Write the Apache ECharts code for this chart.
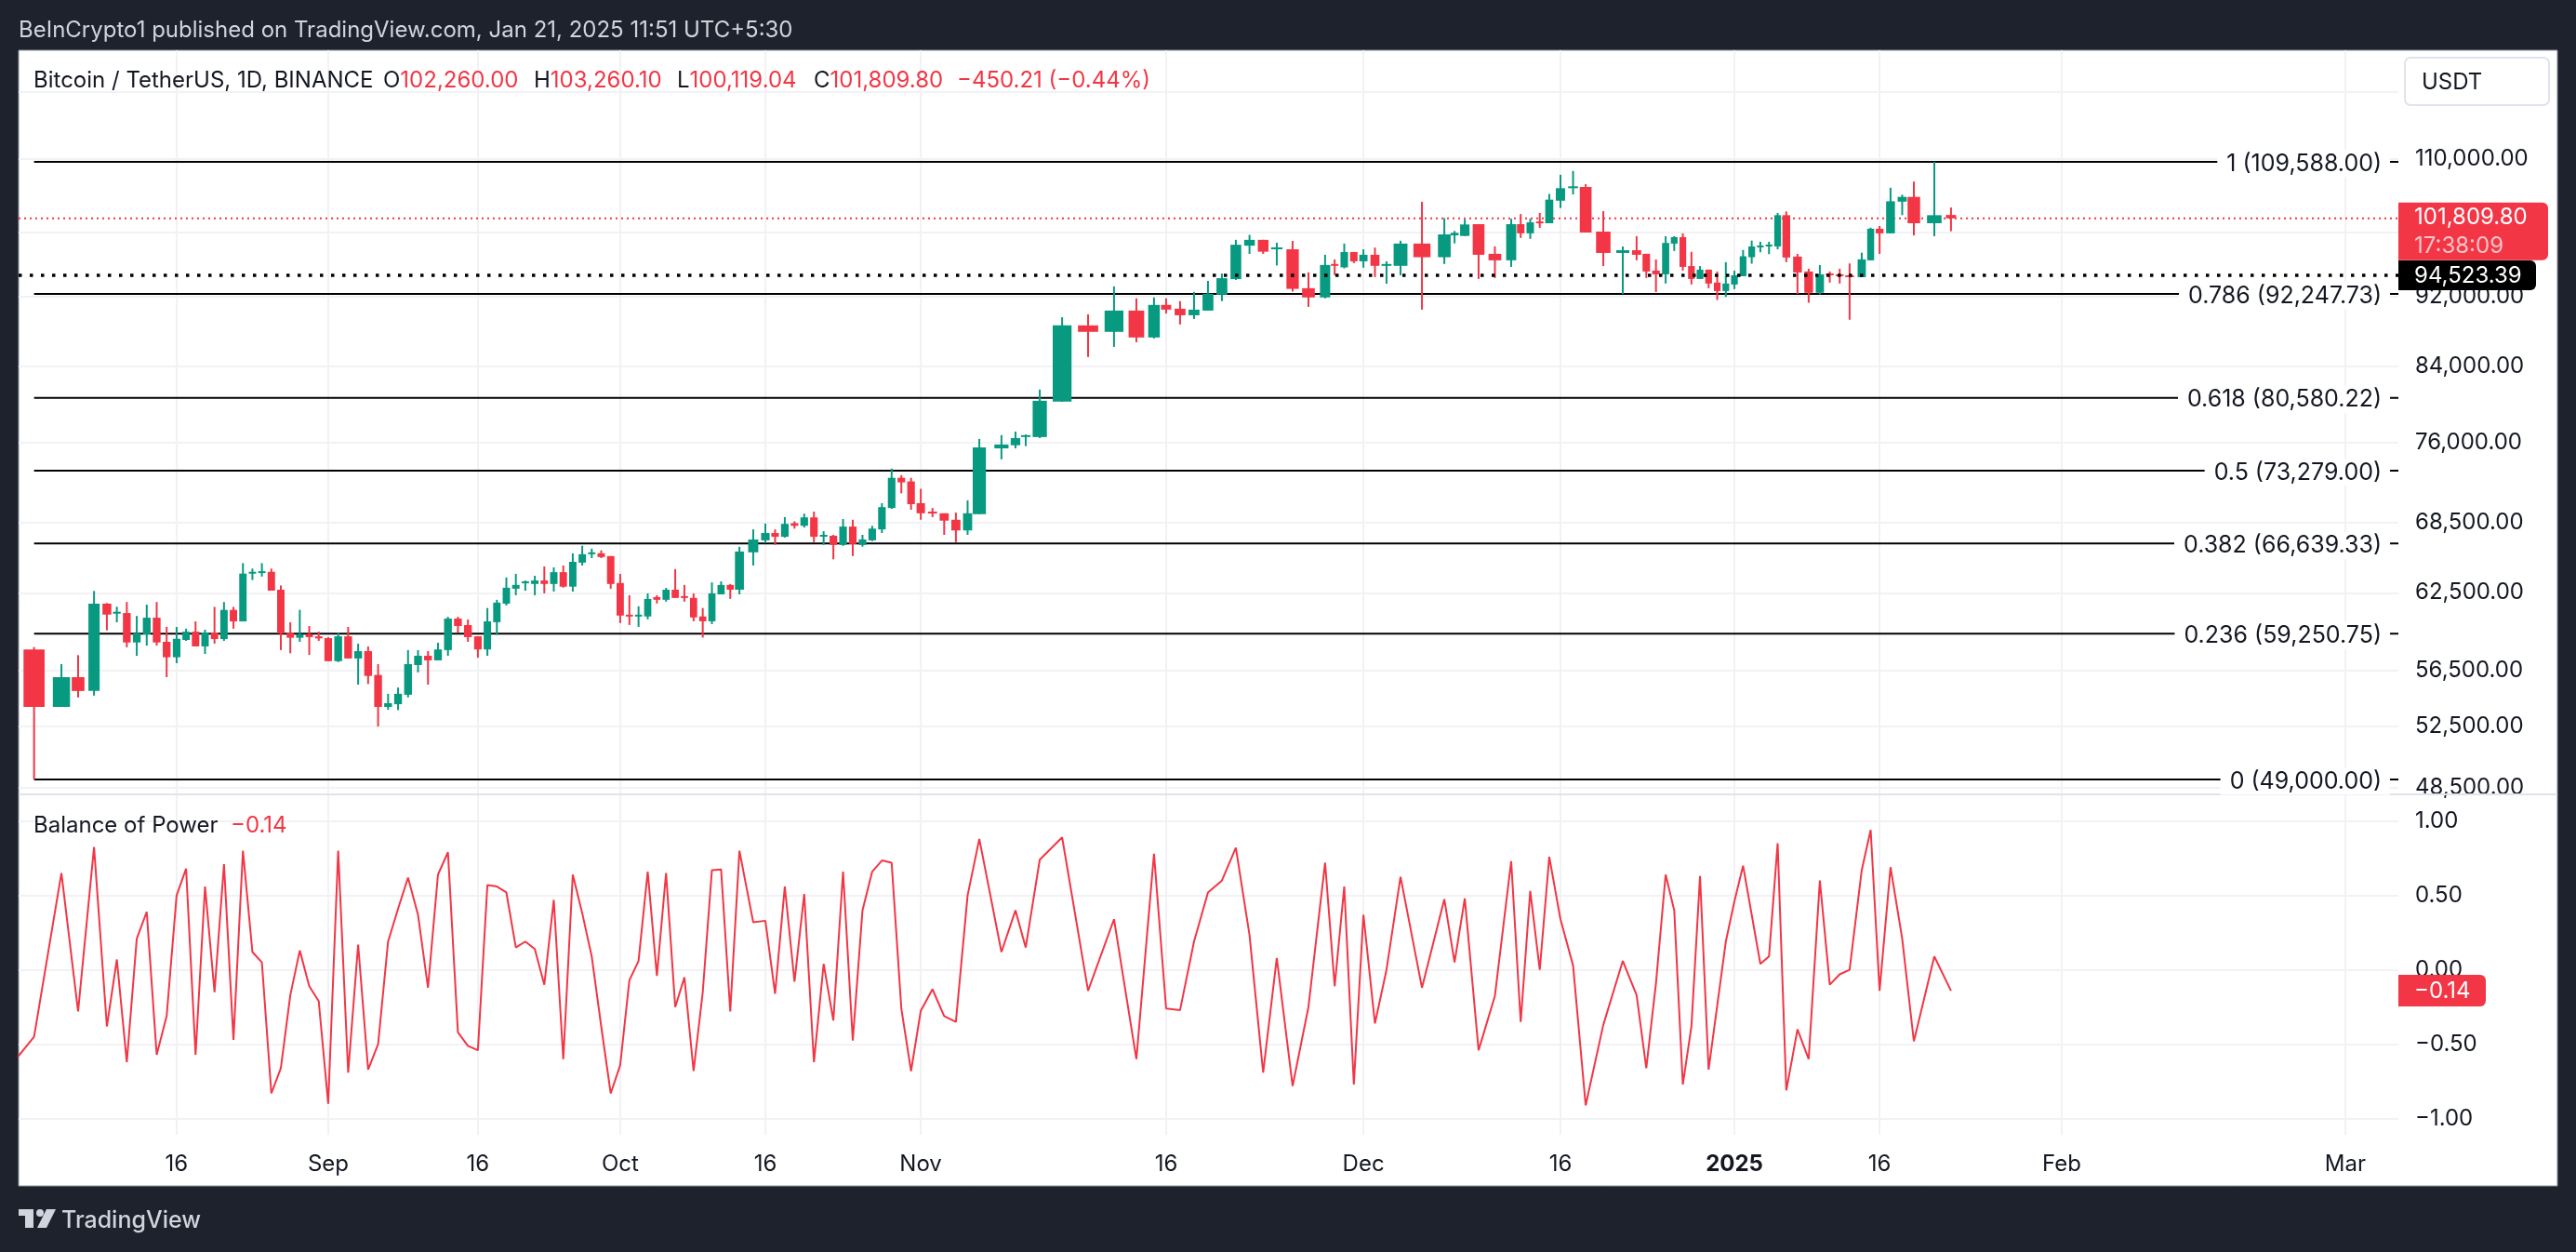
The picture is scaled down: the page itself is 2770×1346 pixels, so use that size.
<!DOCTYPE html>
<html>
<head>
<meta charset="utf-8">
<title>BTCUSDT 1D</title>
<script src="https://cdn.jsdelivr.net/npm/echarts@6/dist/echarts.min.js"></script>
<style>
html, body { margin: 0; padding: 0; background: #1e222d; }
#chart { width: 2770px; height: 1346px; }
</style>
</head>
<body>
<div id="chart"></div>
<script>
// daily bars, Aug 5 2024 to Jan 21 2025
var opens = [58050,53860,55990,54990,61620,60820,60870,58580,59200,60500,58630,57460,58770,59410,58280,59340,58840,61120,60210,64130,64180,64230,62750,59320,58940,59220,59050,58910,57170,59050,57370,57920,56150,53860,54050,54720,56880,57570,57230,58000,60430,59920,59050,58050,60150,61620,62830,63280,63220,63510,63220,64200,63000,65000,65720,65800,65560,63300,60740,60600,60600,62150,61930,62750,62230,62080,60600,60220,62370,63140,62750,65880,66920,67560,67230,68430,68200,68950,67320,67320,66520,68130,66520,66920,67880,69800,72600,72260,70240,69470,69320,68740,67790,69240,75440,75750,76650,76557,80170,88556,87810,90280,87170,90950,90500,89730,90280,92170,94060,98250,99000,97790,97790,92950,91840,95930,95510,97440,96270,97090,95810,95700,98520,96780,99580,99500,101040,97210,96390,101040,99840,101400,101160,104180,105940,106060,100070,97320,97670,97210,95110,94650,98510,99350,95670,94080,95230,93630,92610,93400,94420,96780,98050,98270,98150,102230,96860,95000,92400,94760,94650,94530,94300,96390,100440,99840,104050,104700,101160,102260];
var highs = [58230,56950,57620,62646,61670,61370,61750,60640,61540,61750,59780,59780,59640,60210,59560,61360,61750,61360,64960,64500,64960,64500,63100,60140,61120,59850,59410,58990,59320,59780,58490,58280,56950,54790,55240,58000,58000,57920,58560,60570,60570,60360,59050,61270,61930,63755,64060,63510,63900,64680,64600,64760,65800,66450,66200,66050,65560,64060,62300,61410,62450,62300,62900,64460,63140,62450,61270,63350,63430,63220,66360,67880,68400,67880,68980,68600,69290,69470,67720,67400,68800,68740,67400,68200,70240,73480,72860,72600,71570,69800,69320,69380,70500,76370,76750,77110,76820,81450,89500,89840,93170,91730,91840,91730,91400,92500,93840,94740,99000,99640,99000,98630,98860,94890,97090,96510,98520,97440,97780,98010,96270,98880,104040,101840,100150,101700,101040,98160,101760,102390,101760,102520,105100,107760,108300,106450,102770,98150,99470,97210,96490,99470,99470,99840,97460,95670,95230,95000,96160,95110,97700,98900,98750,98750,102520,102730,97210,95340,95800,95000,95340,96000,97360,100580,100800,105960,105000,106810,109588,103260.10];
var lows = [49000,53860,54530,54660,59515,60140,58210,57570,58340,58340,55990,57020,58700,58280,57710,58490,58700,59640,60210,63550,63830,62670,58000,57760,58630,57640,58700,57170,57100,57370,55450,55490,52500,53660,53640,54530,56340,55450,57230,57570,59340,58630,57430,57570,59160,61470,62300,62670,62300,62450,62600,62920,62600,64760,65390,65390,62830,60080,59930,59780,60370,61630,61780,62080,61780,60220,58950,60000,62370,62000,62370,64760,66680,66520,67160,67950,68040,66760,66520,65280,66440,65560,66370,66850,67560,69720,71150,69640,68740,68980,67400,66760,67400,69240,74370,75440,75660,76460,80170,84980,86110,86630,87060,89940,88660,89300,90280,91400,93950,97200,97200,95750,92540,90720,91730,94540,95390,96040,95470,94310,93500,94540,90390,95930,98540,99500,94080,94190,95570,99240,99120,100560,101160,103190,105040,99950,95670,92250,96390,94200,92490,93520,97570,95110,93400,94080,92950,91530,91900,92840,94420,95970,97410,97170,97790,96160,92250,91200,92210,93640,93520,89210,94300,96390,97210,99840,102230,99570,99470,100119.04];
var closes = [53860,55990,54990,61620,60746,60970,58580,59270,60500,58580,57460,58860,59410,58280,59340,58840,61120,60210,64080,64230,64280,62670,59270,58940,59220,58990,58890,57170,59050,57370,57920,56080,53860,54120,54790,56950,57570,57230,58050,60430,59850,58990,58050,60210,61700,62910,63140,63430,63510,63220,64200,63000,65070,65720,65880,65480,63220,60670,60600,60740,62000,61930,62750,62080,62080,60520,60220,62450,63140,62750,65950,66990,67560,67230,68370,68200,68950,67230,67400,66520,68130,66600,67000,67950,69880,72600,72170,70150,69320,69320,68660,67790,69320,75530,75820,76460,76750,80270,88556,87810,90280,87170,90950,90390,89730,90390,92280,94170,98370,99000,97480,98030,92870,91840,95810,95740,97440,96270,97090,95700,95930,98520,96780,99700,99900,101000,97090,96390,101040,99840,101280,101160,104320,105890,106150,99950,97320,97670,97090,95000,94650,98600,99350,95570,94080,95230,93520,92610,93520,94530,96900,98150,98270,98390,102230,96740,94880,92400,94650,94650,94420,94370,96510,100440,99840,104100,104700,101160,102230,101809.80];
// one value before the first bar, the line enters the pane from off screen
var bopBefore = -0.67;
var bopValues = [-0.45,0.65,-0.28,0.825,-0.38,0.07,-0.62,0.21,0.39,-0.57,-0.31,0.50,0.68,-0.57,0.56,-0.15,0.71,-0.47,0.80,0.12,0.05,-0.83,-0.66,-0.17,0.13,-0.11,-0.21,-0.90,0.80,-0.69,0.17,-0.67,-0.50,0.19,0.41,0.62,0.37,-0.12,0.64,0.79,-0.42,-0.51,-0.54,0.57,0.56,0.52,0.15,0.19,0.14,-0.10,0.47,-0.60,0.64,0.38,0.09,-0.38,-0.83,-0.64,-0.07,0.06,0.66,-0.04,0.65,-0.25,-0.05,-0.68,-0.15,0.67,0.675,-0.28,0.80,0.32,0.33,-0.16,0.56,-0.08,0.51,-0.62,0.04,-0.34,0.66,-0.475,0.40,0.66,0.735,0.72,-0.26,-0.68,-0.275,-0.13,-0.31,-0.35,0.50,0.88,0.12,0.40,0.15,0.74,0.89,-0.14,0.34,-0.60,0.78,-0.26,-0.27,0.19,0.52,0.60,0.82,0.235,-0.69,0.08,-0.78,-0.25,0.72,-0.11,0.56,-0.77,0.37,-0.36,0.00,0.625,-0.12,0.475,0.05,0.48,-0.54,-0.175,0.73,-0.35,0.53,0.00,0.76,0.34,0.03,-0.91,-0.37,0.06,-0.17,-0.66,-0.09,0.64,0.40,-0.77,-0.38,0.63,-0.67,-0.24,0.19,0.46,0.70,0.37,0.04,0.09,0.85,-0.81,-0.40,-0.60,0.60,-0.10,-0.03,0.00,0.67,0.94,-0.14,0.69,0.21,-0.48,0.09,-0.14];

var fibLevels = ['1','0.786','0.618','0.5','0.382','0.236','0'];
var fibPrices = [109588,92247.73,80580.22,73279,66639.33,59250.75,49000];
var lastPrice = 101809.80;
var markedPrice = 94523.39;
var lastBop = -0.14;

var priceTicks = [120000,110000,100000,92000,84000,76000,68500,62500,56500,52500,48500];
var bopTicks = [-1,-0.5,0,0.5,1];
var timeLabels = ['16','Sep','16','Oct','16','Nov','16','Dec','16','2025','16','Feb','Mar'];
var timeLabelBars = [11,27,42,57,72,88,103,118,133,149,164,181,209];

// the time scale of the picture is not even, so bars go through this bar -> axis table
var scaleBars = [-1,0,1,2,3,4,11,27,42,57,70,71,72,88,93,94,95,96,97,98,99,100,101,102,103,108,111,113,114,118,120,121,122,123,125,126,128,132,133,135,136,137,138,141,149,155,158,161,162,164,165,167,168,169,181,209];
var scaleAxis = [-0.47,0.65,1.80,2.50,3.17,3.71,6.64,13.01,19.30,25.28,30.29,30.87,31.38,37.91,40.37,41.30,41.89,42.32,42.91,43.85,44.94,46.03,46.97,47.71,48.22,51.15,52.87,54.20,54.90,56.51,57.48,58.07,58.97,59.91,60.77,61.35,62.72,64.32,64.79,65.85,66.59,67.41,67.99,69.21,72.10,74.28,75.69,76.94,77.45,78.20,78.66,79.64,80.50,81.20,85.85,97.77];

var UP = '#089981';
var DOWN = '#f23645';
var INK = '#131722';
var GRID = '#f2f2f5';
var FONT = 'Inter, sans-serif';
var SIZE = 24;

function barToAxis(bar) {
    var k = 0;
    while (k < scaleBars.length - 2 && bar > scaleBars[k + 1]) k++;
    var t = (bar - scaleBars[k]) / (scaleBars[k + 1] - scaleBars[k]);
    return scaleAxis[k] + t * (scaleAxis[k + 1] - scaleAxis[k]);
}

function money(v) {
    return v.toLocaleString('en-US', { minimumFractionDigits: 2, maximumFractionDigits: 2 });
}

var candleData = opens.map(function (o, i) {
    var half = (barToAxis(i + 0.5) - barToAxis(i - 0.5)) / 2 * 0.78;
    return [barToAxis(i), o, closes[i], lows[i], highs[i], half];
});

var bopData = [[barToAxis(-1), bopBefore]].concat(bopValues.map(function (v, i) {
    return [barToAxis(i), v];
}));

var timeTicks = timeLabelBars.map(barToAxis);

function renderCandle(params, api) {
    var x = api.value(0), o = api.value(1), c = api.value(2);
    var half = api.value(5);
    var top = api.coord([x, Math.max(o, c)])[1];
    var bot = api.coord([x, Math.min(o, c)])[1];
    var center = api.coord([x, o])[0];
    var hi = api.coord([x, api.value(4)])[1];
    var lo = api.coord([x, api.value(3)])[1];
    var left = api.coord([x - half, o])[0];
    var right = api.coord([x + half, o])[0];
    var color = c >= o ? UP : DOWN;
    return {
        type: 'group',
        children: [
            { type: 'rect', shape: { x: center - 1, y: hi, width: 2, height: lo - hi }, style: { fill: color } },
            { type: 'rect', shape: { x: left, y: top, width: right - left, height: Math.max(bot - top, 2) }, style: { fill: color } }
        ]
    };
}

function renderFib(params, api) {
    var p = api.value(0);
    var a = api.coord([barToAxis(0), p]);
    var b = api.coord([100, p]);
    var t = api.coord([99.65, p]);
    return {
        type: 'group',
        children: [
            { type: 'rect', shape: { x: a[0], y: a[1] - 1, width: b[0] - a[0], height: 2 }, style: { fill: '#000' } },
            {
                type: 'text',
                x: t[0],
                y: t[1] + 2,
                style: {
                    text: fibLevels[params.dataIndex] + ' (' + money(p) + ')',
                    align: 'right',
                    verticalAlign: 'middle',
                    fill: INK,
                    font: '25px ' + FONT,
                    backgroundColor: '#fff',
                    padding: [2, 9, 2, 10]
                }
            }
        ]
    };
}

// price tag boxes hang off the right edge of the pane
function tagSeries(gridIndex, value, lines, fill, width, height, offset, z) {
    return {
        type: 'custom',
        xAxisIndex: gridIndex,
        yAxisIndex: gridIndex,
        silent: true,
        z: z,
        data: [[100, value]],
        encode: { x: 0, y: 1 },
        renderItem: function (params, api) {
            var pos = api.coord([100, api.value(1)]);
            var top = pos[1] + offset;
            var children = [{
                type: 'rect',
                shape: { x: pos[0], y: top, width: width, height: height, r: [0, 6, 6, 0] },
                style: { fill: fill }
            }];
            lines.forEach(function (line, i) {
                children.push({
                    type: 'text',
                    x: pos[0] + 17,
                    y: top + (height / lines.length) * (i + 0.5) + 1,
                    style: {
                        text: line[0],
                        fill: line[1],
                        font: SIZE + 'px ' + FONT,
                        verticalAlign: 'middle'
                    }
                });
            });
            return { type: 'group', children: children };
        }
    };
}

function hline(value, color, width, dash, z) {
    return {
        type: 'line',
        silent: true,
        z: z,
        showSymbol: false,
        data: [[0, value], [100, value]],
        lineStyle: { color: color, width: width, type: dash }
    };
}

function timeAxis(gridIndex, showLabels) {
    return {
        type: 'value',
        gridIndex: gridIndex,
        min: 0,
        max: 100,
        axisLine: { show: false },
        axisTick: { show: false, customValues: timeTicks },
        splitLine: { show: true, lineStyle: { color: GRID, width: 2 } },
        axisLabel: {
            show: showLabels,
            customValues: timeTicks,
            margin: 20,
            color: INK,
            fontFamily: FONT,
            fontSize: SIZE,
            hideOverlap: false,
            formatter: function (v) {
                var i = timeTicks.indexOf(v);
                var t = timeLabels[i];
                return t === '2025' ? '{b|2025}' : t;
            },
            rich: { b: { fontFamily: FONT, fontSize: SIZE, fontWeight: 'bold', color: INK } }
        }
    };
}

function valueAxisLabel(ticks, formatter) {
    return {
        customValues: ticks,
        margin: 18,
        padding: [4, 0, 0, 0],
        color: INK,
        fontFamily: FONT,
        fontSize: SIZE,
        hideOverlap: false,
        formatter: formatter
    };
}

function headerText(x, parts) {
    var rich = {
        k: { fill: INK, fontFamily: FONT, fontSize: SIZE },
        r: { fill: DOWN, fontFamily: FONT, fontSize: SIZE }
    };
    return { type: 'text', z: 20, x: x, y: parts.y, style: { text: parts.text, verticalAlign: 'middle', rich: rich } };
}

var chart = echarts.init(document.getElementById('chart'));
chart.setOption({
    animation: false,
    backgroundColor: '#1e222d',
    grid: [
        { left: 20, right: 191, top: 54, height: 800 },
        { left: 20, right: 191, top: 854, height: 366 }
    ],
    xAxis: [timeAxis(0, false), timeAxis(1, true)],
    yAxis: [
        {
            type: 'log',
            gridIndex: 0,
            position: 'right',
            min: 48059,
            max: 126750,
            axisLine: { show: false },
            axisTick: { show: false, customValues: priceTicks },
            splitLine: { show: true, lineStyle: { color: GRID, width: 2 } },
            axisLabel: valueAxisLabel(priceTicks, function (v) { return money(v); })
        },
        {
            type: 'value',
            gridIndex: 1,
            position: 'right',
            min: -1.108,
            max: 1.179,
            axisLine: { show: false },
            axisTick: { show: false, customValues: bopTicks },
            splitLine: { show: true, lineStyle: { color: GRID, width: 2 } },
            axisLabel: valueAxisLabel(bopTicks, function (v) {
                return v.toFixed(2).replace('-', '\u2212');
            })
        }
    ],
    series: [
        hline(lastPrice, DOWN, 2, [2, 4], 2),
        {
            type: 'custom',
            xAxisIndex: 0,
            yAxisIndex: 0,
            silent: true,
            z: 3,
            data: fibPrices.map(function (p) { return [p]; }),
            encode: { y: 0 },
            renderItem: renderFib
        },
        {
            type: 'custom',
            xAxisIndex: 0,
            yAxisIndex: 0,
            silent: true,
            z: 4,
            data: candleData,
            encode: { x: 0, y: [1, 2, 3, 4] },
            renderItem: renderCandle
        },
        hline(markedPrice, '#000', 3.5, [3.5, 8.5], 5),
        {
            type: 'line',
            xAxisIndex: 1,
            yAxisIndex: 1,
            silent: true,
            z: 3,
            showSymbol: false,
            data: bopData,
            lineStyle: { color: DOWN, width: 2 }
        },
        tagSeries(0, markedPrice, [[money(markedPrice), '#fff']], '#000', 148, 32, -16, 11),
        tagSeries(0, lastPrice, [[money(lastPrice), '#fff'], ['17:38:09', 'rgba(255,255,255,0.7)']], DOWN, 161, 62, -17, 10),
        tagSeries(1, lastBop, [[String(lastBop).replace('-', '\u2212'), '#fff']], DOWN, 94, 34, -17, 10)
    ],
    graphic: [
        { type: 'rect', z: -10, shape: { x: 20, y: 54, width: 2730, height: 1221 }, style: { fill: '#fff', stroke: '#8a8f9c', lineWidth: 1 } },
        { type: 'rect', z: 1, shape: { x: 20, y: 853, width: 2730, height: 2 }, style: { fill: '#e0e3eb' } },
        { type: 'text', z: 20, x: 20, y: 33, style: { text: 'BeInCrypto1 published on TradingView.com, Jan 21, 2025 11:51 UTC+5:30', fill: '#d1d4dc', font: SIZE + 'px ' + FONT, verticalAlign: 'middle' } },
        headerText(36, { y: 87, text: '{k|Bitcoin / TetherUS, 1D, BINANCE}' }),
        headerText(412, { y: 87, text: '{k|O}{r|102,260.00}' }),
        headerText(574, { y: 87, text: '{k|H}{r|103,260.10}' }),
        headerText(728, { y: 87, text: '{k|L}{r|100,119.04}' }),
        headerText(875, { y: 87, text: '{k|C}{r|101,809.80}' }),
        headerText(1029, { y: 87, text: '{r|\u2212450.21 (\u22120.44%)}' }),
        headerText(36, { y: 888, text: '{k|Balance of Power}{r|  \u22120.14}' }),
        { type: 'rect', z: 20, shape: { x: 2586, y: 62, width: 155, height: 51, r: 6 }, style: { fill: '#fff', stroke: '#e0e3eb', lineWidth: 2 } },
        { type: 'text', z: 21, x: 2604, y: 89, style: { text: 'USDT', fill: INK, font: SIZE + 'px ' + FONT, verticalAlign: 'middle' } },
        // logo
        { type: 'rect', z: 20, shape: { x: 20, y: 1300, width: 16, height: 7 }, style: { fill: '#d1d4dc' } },
        { type: 'rect', z: 20, shape: { x: 27, y: 1300, width: 9, height: 20 }, style: { fill: '#d1d4dc' } },
        { type: 'circle', z: 20, shape: { cx: 43, cy: 1304, r: 4 }, style: { fill: '#d1d4dc' } },
        { type: 'polygon', z: 20, shape: { points: [[50, 1300], [60, 1300], [50, 1320], [40, 1320]] }, style: { fill: '#d1d4dc' } },
        { type: 'text', z: 20, x: 66, y: 1312, style: { text: 'TradingView', fill: '#d1d4dc', font: '500 25px ' + FONT, verticalAlign: 'middle' } }
    ]
});
</script>
</body>
</html>
